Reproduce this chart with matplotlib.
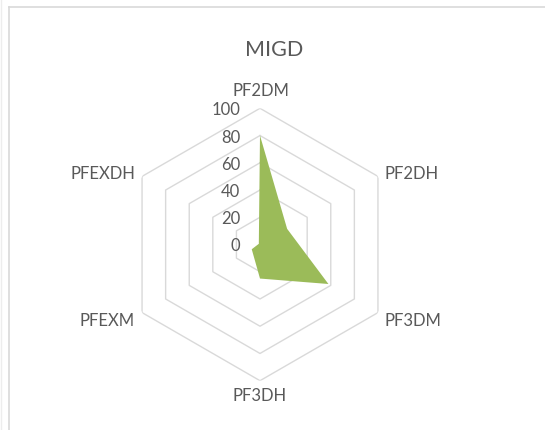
import numpy as np
import matplotlib
matplotlib.use("Agg")
import matplotlib.pyplot as plt
from matplotlib.lines import Line2D

categories = ["PF2DM", "PF2DH", "PF3DM", "PF3DH", "PFEXM", "PFEXDH"]
values = [80, 23, 58, 25, 7, 1]
levels = [20, 40, 60, 80, 100]
level_labels = ["0", "20", "40", "60", "80", "100"]
title = "MIGD"

plt.rcParams['font.family'] = ['Lato', 'DejaVu Sans']
text_color = "#595959"
grid_color = "#D9D9D9"
fill_color = "#9BBB59"

W, H = 545, 431
fig = plt.figure(figsize=(W / 100, H / 100), dpi=100)
cx, cy, R = 260, 431 - 245.5, 136.2
ax = fig.add_axes([(cx - R) / W, (cy - R) / H, 2 * R / W, 2 * R / H], projection="polar")
ax.set_theta_zero_location("N")
ax.set_theta_direction(-1)
ax.set_ylim(0, 100)
ax.grid(False)
ax.spines["polar"].set_visible(False)
ax.set_xticks([])
ax.set_yticks([])
ax.patch.set_alpha(0)

n = len(categories)
theta = np.linspace(0, 2 * np.pi, n, endpoint=False)
theta_closed = np.append(theta, theta[0])

for lv in levels:
    ax.plot(theta_closed, [lv] * (n + 1), color=grid_color, lw=1.0, zorder=1)

vals_closed = values + values[:1]
ax.fill(theta_closed, vals_closed, color=fill_color, lw=0, zorder=2)

PX = 0.72  # points per pixel at 100 dpi

# radial labels
for lv, lab in zip([0] + levels, level_labels):
    ax.annotate(lab, xy=(0, lv), xytext=(-20 * PX, -1 * PX), textcoords="offset points",
                ha="right", va="center", fontsize=12, color=text_color)

# category labels (offsets in pixels)
offsets = [(1, 18, "center", "center"),
           (7, 3, "left", "center"),
           (7, -7, "left", "center"),
           (0, -14, "center", "center"),
           (-7, -7, "right", "center"),
           (-7, 3, "right", "center")]
for t, cat, (dx, dy, ha, va) in zip(theta, categories, offsets):
    ax.annotate(cat, xy=(t, 100), xytext=(dx * PX, dy * PX), textcoords="offset points",
                ha=ha, va=va, fontsize=12, color=text_color)

fig.text(274 / W, 1 - 50 / H, title, ha="center", va="center", fontsize=15.5, color=text_color)

# chart area borders
fig.add_artist(Line2D([8.5 / W, 8.5 / W], [0, 1 - 7.5 / H], transform=fig.transFigure, color="#D9D9D9", lw=1.2))
fig.add_artist(Line2D([8.5 / W, 1], [1 - 7.5 / H, 1 - 7.5 / H], transform=fig.transFigure, color="#D9D9D9", lw=1.2))
fig.add_artist(Line2D([0.5 / W, 0.5 / W], [0, 1], transform=fig.transFigure, color="#EDEDED", lw=1.0))

fig.savefig("out.png", dpi=100)
